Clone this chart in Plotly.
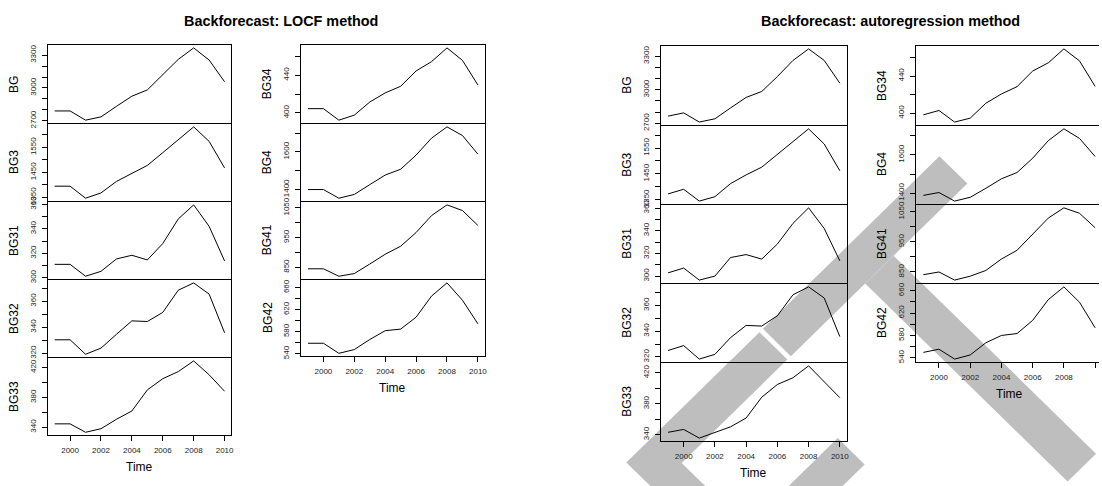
import plotly.graph_objects as go

# ---------------- data ----------------
YEARS = list(range(1999, 2011))
X_TICKS = [2000, 2002, 2004, 2006, 2008, 2010]

LEFT_NAMES = ["BG", "BG3", "BG31", "BG32", "BG33"]
RIGHT_NAMES = ["BG34", "BG4", "BG41", "BG42"]

# LOCF method
BG_LOCF = [2790, 2790, 2706, 2736, 2832, 2925, 2982, 3120, 3261, 3366, 3255, 3057]
BG3_LOCF = [1395, 1395, 1347, 1368, 1414, 1447, 1478, 1529, 1581, 1632, 1574, 1468]
BG31_LOCF = [311, 311, 301.3, 305.3, 315.4, 318.4, 314.6, 328, 348, 359.5, 342, 313.8]
BG32_LOCF = [330.4, 330.4, 319.3, 324, 334.6, 344.9, 344.4, 351.4, 368.4, 374, 365.4, 335.8]
BG33_LOCF = [344.5, 344.5, 333.2, 338, 350.6, 361.8, 390, 405.1, 414.6, 428.9, 410.3, 388.2]
BG34_LOCF = [404.5, 404.5, 392.3, 397.6, 411.5, 421.2, 428.2, 444.5, 454.3, 468.9, 455.7, 429.6]
BG4_LOCF = [1400, 1400, 1354, 1374, 1426, 1477, 1508, 1583, 1673, 1733, 1687, 1588]
BG41_LOCF = [845, 845, 820, 829, 861, 894, 921, 967, 1024, 1060, 1041, 991]
BG42_LOCF = [558.9, 558.9, 540.6, 547.4, 565.7, 581.7, 584.6, 606.3, 644.6, 668.6, 637.1, 594.3]

# autoregression method
BG_AR = [2765, 2794, 2712, 2741, 2838, 2932, 2985, 3118, 3262, 3365, 3262, 3059]
BG3_AR = [1372, 1390, 1344, 1361, 1412, 1446, 1476, 1525, 1575, 1625, 1566, 1462]
BG31_AR = [302.9, 307.1, 296.5, 300, 316.4, 319, 315, 328.3, 346.5, 360.2, 342, 313.5]
BG32_AR = [325, 328.8, 318.3, 322, 335, 344.5, 344, 352, 368.3, 374.5, 365.8, 335.8]
BG33_AR = [343.1, 346.8, 335.6, 342.7, 350.2, 361.6, 388.5, 405, 413.7, 429.1, 408.9, 387.9]
BG34_AR = [398.2, 402.9, 390.4, 394.6, 410.7, 420.7, 428.6, 445.4, 454.3, 469.3, 456.4, 428.9]
BG4_AR = [1388, 1403, 1358, 1378, 1425, 1475, 1508, 1583, 1675, 1737, 1687, 1592]
BG41_AR = [841, 850, 823, 836, 855, 893, 922, 975, 1029, 1063, 1045, 997]
BG42_AR = [549.7, 555.4, 537.7, 545.1, 566.9, 580, 583.4, 606.9, 644, 666.9, 639.4, 593.7]

LOCF = {"BG": BG_LOCF, "BG3": BG3_LOCF, "BG31": BG31_LOCF, "BG32": BG32_LOCF,
        "BG33": BG33_LOCF, "BG34": BG34_LOCF, "BG4": BG4_LOCF, "BG41": BG41_LOCF,
        "BG42": BG42_LOCF}
AR = {"BG": BG_AR, "BG3": BG3_AR, "BG31": BG31_AR, "BG32": BG32_AR,
      "BG33": BG33_AR, "BG34": BG34_AR, "BG4": BG4_AR, "BG41": BG41_AR,
      "BG42": BG42_AR}

# y tick spacing and the tick values that carry a label
TICK_STEP = {"BG": 100, "BG3": 50, "BG31": 10, "BG32": 10, "BG33": 20,
             "BG34": 20, "BG4": 100, "BG41": 50, "BG42": 20}
TICK_LABELS = {"BG": [2700, 3000, 3300], "BG3": [1350, 1450, 1550],
               "BG31": [300, 320, 340, 360], "BG32": [320, 340, 360],
               "BG33": [340, 380, 420], "BG34": [400, 440], "BG4": [1400, 1600],
               "BG41": [850, 950, 1050], "BG42": [540, 580, 620, 660]}

TITLE_LOCF = "Backforecast: LOCF method"
TITLE_AR = "Backforecast: autoregression method"

# ---------------- layout ----------------
W, H = 1102, 486
FONT = "Liberation Sans, Arial, sans-serif"


def fx(px):
    return px / W


def fy(py):
    return 1 - py / H


# (data, names, left px, right px, panel edges px)
COLUMNS = [
    (LOCF, LEFT_NAMES, 48, 232, [40, 120, 200, 280, 360, 440]),
    (LOCF, RIGHT_NAMES, 302, 486, [40, 120, 200, 280, 359]),
    (AR, LEFT_NAMES, 663, 849, [41, 122, 203, 284, 365, 446]),
    (AR, RIGHT_NAMES, 919, 1105, [41, 122, 203, 284, 365]),
]

fig = go.Figure()
annotations = []
k = 0
xmin_full = YEARS[0] - 0.04 * (YEARS[-1] - YEARS[0])
xmax_full = YEARS[-1] + 0.04 * (YEARS[-1] - YEARS[0])

for data, names, x0, x1, edges in COLUMNS:
    clipped = x1 > W
    dom_x1 = min(x1, W)
    xr_max = xmin_full + (dom_x1 - x0) / (x1 - x0) * (xmax_full - xmin_full)
    n = len(names)
    for j, name in enumerate(names):
        k += 1
        vals = data[name]
        vmin, vmax = min(vals), max(vals)
        pad = 0.04 * (vmax - vmin)
        ylo, yhi = vmin - pad, vmax + pad
        step = TICK_STEP[name]
        t = (int(ylo // step) + 1) * step
        tickvals, ticktext = [], []
        while t <= yhi:
            tickvals.append(t)
            ticktext.append(str(t) if t in TICK_LABELS[name] else "")
            t += step
        top = edges[j] + (1 if j > 0 else 0)
        bot = edges[j + 1]
        bottom_panel = (j == n - 1)
        xa = dict(domain=[fx(x0), fx(dom_x1)], range=[xmin_full, xr_max],
                  anchor=f"y{k}", showline=True, linecolor="black", linewidth=1,
                  mirror=True, showgrid=False, zeroline=False,
                  tickvals=X_TICKS if bottom_panel else [],
                  ticks="outside" if bottom_panel else "",
                  ticklen=5, tickcolor="black", tickwidth=1,
                  showticklabels=bottom_panel,
                  tickfont=dict(family=FONT, size=8, color="#222"),
                  ticklabelstandoff=2)
        ya = dict(domain=[fy(bot), fy(top)], range=[ylo, yhi], anchor=f"x{k}",
                  showline=True, linecolor="black", linewidth=1,
                  mirror=(not clipped), showgrid=False, zeroline=False,
                  tickvals=tickvals, ticktext=ticktext, ticks="outside",
                  ticklen=5, tickcolor="black", tickwidth=1, tickangle=-90,
                  tickfont=dict(family=FONT, size=8, color="#222"),
                  ticklabelstandoff=3)
        sfx = "" if k == 1 else str(k)
        fig.layout["xaxis" + sfx] = xa
        fig.layout["yaxis" + sfx] = ya
        fig.add_trace(go.Scatter(x=YEARS, y=vals, mode="lines",
                                 line=dict(color="black", width=1),
                                 xaxis=f"x{k}", yaxis=f"y{k}",
                                 showlegend=False, hoverinfo="skip"))
        annotations.append(dict(text=name, x=fx(x0 - 34), y=fy((edges[j] + edges[j + 1]) / 2),
                                xref="paper", yref="paper", showarrow=False,
                                textangle=-90, xanchor="center", yanchor="middle",
                                font=dict(family=FONT, size=12, color="black")))
    annotations.append(dict(text="Time", x=fx((x0 + x1) / 2), y=fy(edges[-1] + 33),
                            xref="paper", yref="paper", showarrow=False,
                            xanchor="center", yanchor="middle",
                            font=dict(family=FONT, size=12, color="black")))

annotations.append(dict(text="<b>" + TITLE_LOCF + "</b>", x=fx(281.5), y=fy(15),
                        xref="paper", yref="paper", showarrow=False,
                        xanchor="center", yanchor="middle",
                        font=dict(family=FONT, size=14.4, color="black")))
annotations.append(dict(text="<b>" + TITLE_AR + "</b>", x=fx(893), y=fy(15),
                        xref="paper", yref="paper", showarrow=False,
                        xanchor="center", yanchor="middle",
                        font=dict(family=FONT, size=14.4, color="black")))

# gray crossed-band overlay (decoration), pixel polygons
OVERLAY = [
    [(761.5, 334.5), (789.5, 362.5), (683.5, 468.5), (757.5, 542.5), (730, 570), (628, 468)],
    [(765, 331), (793, 359), (970, 182), (942, 154)],
    [(867.5, 284.5), (896, 256), (1099, 459), (1070.5, 487.5)],
    [(840, 443), (867, 470), (768.5, 568.5), (741.5, 541.5)],
]
shapes = []
for poly in OVERLAY:
    path = "M " + " L ".join(f"{fx(px):.5f},{fy(py):.5f}" for px, py in poly) + " Z"
    shapes.append(dict(type="path", path=path, xref="paper", yref="paper",
                       fillcolor="#bebebe", line=dict(width=0), layer="below"))

fig.update_layout(width=W, height=H, margin=dict(l=0, r=0, t=0, b=0),
                  paper_bgcolor="white", plot_bgcolor="rgba(0,0,0,0)",
                  annotations=annotations, shapes=shapes,
                  font=dict(family=FONT, size=12, color="black"))

fig.write_html("out.html",
               config={"displayModeBar": False, "staticPlot": True},
               post_script="document.body.style.margin='0px';"
                           "document.body.style.overflow='hidden';")
